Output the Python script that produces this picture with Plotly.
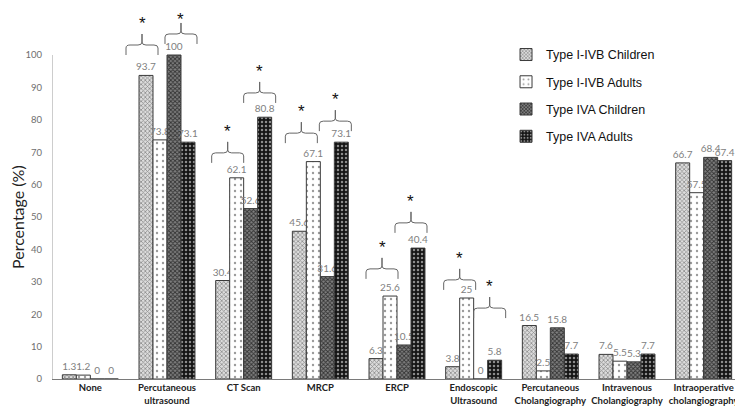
import plotly.graph_objects as go

categories = ["None", "Percutaneous<br>ultrasound", "CT Scan", "MRCP", "ERCP",
              "Endoscopic<br>Ultrasound", "Percutaneous<br>Cholangiography",
              "Intravenous<br>Cholangiography", "Intraoperative<br>cholangiography"]
series_names = ["Type I-IVB Children", "Type I-IVB Adults", "Type IVA Children", "Type IVA Adults"]
s1 = [1.3, 93.7, 30.4, 45.6, 6.3, 3.8, 16.5, 7.6, 66.7]
s2 = [1.2, 73.8, 62.1, 67.1, 25.6, 25, 2.5, 5.5, 57.5]
s3 = [0, 100, 52.6, 31.6, 10.5, 0, 15.8, 5.3, 68.4]
s4 = [0, 73.1, 80.8, 73.1, 40.4, 5.8, 7.7, 7.7, 67.4]
y_ticks = [0, 10, 20, 30, 40, 50, 60, 70, 80, 90, 100]

# significance braces: category index, pair (0 = bars 1-2, 1 = bars 3-4), base level (%)
brace_cat = [1, 1, 2, 2, 3, 3, 4, 4, 5, 5]
brace_pair = [0, 1, 0, 1, 0, 1, 0, 1, 0, 1]
brace_level = [100.0, 103.4, 66.7, 85.2, 72.8, 76.5, 30.9, 45.1, 27.5, 18.8]
brace_shift_px = [-11, 0, -2, 2, -5, 1, -1, 0, 0, 2]

# page body has an 8px margin, so the figure is 8px smaller than the window
W, H = 735, 402
ML, MR, MT, MB = 44, 1, 0, 31
plot_w = W - ML - MR
plot_h = H - MT - MB
YMAX = plot_h / 324 * 100
ux = 9 / plot_w          # x units per px
uy = YMAX / plot_h       # y units per px

bargap = 0.27
barw = (1 - bargap) / 4

styles = [
    dict(bg="#dcdcdc", fg="#8c8c8c", shape="x", size=3, sol=0.45),
    dict(bg="#ffffff", fg="#9a9a9a", shape=".", size=6, sol=0.12),
    dict(bg="#808080", fg="#333333", shape="x", size=3, sol=0.5),
    dict(bg="#141414", fg="#8c8c8c", shape=".", size=4, sol=0.3),
]

fig = go.Figure()
xs = list(range(len(categories)))
for name, vals, st in zip(series_names, [s1, s2, s3, s4], styles):
    fig.add_trace(go.Bar(
        x=xs, y=vals, name=name, legendgroup=name,
        text=[f"{v:g}" for v in vals], textposition="outside",
        textfont=dict(family="Lato", size=10, color="#808080"),
        constraintext="none", cliponaxis=False,
        marker=dict(color=st["bg"],
                    line=dict(color="#3a3a3a", width=1),
                    pattern=dict(shape=st["shape"], fillmode="replace", bgcolor=st["bg"],
                                 fgcolor=st["fg"], size=st["size"], solidity=st["sol"])),
    ))

shapes = []
annotations = []
# left axis line from 0 to 100
shapes.append(dict(type="line", xref="x", yref="y", x0=-0.5, x1=-0.5, y0=0, y1=100,
                   line=dict(color="#bdbdbd", width=1.5)))

h1 = 10 * uy
h2 = 11 * uy
rx = 4 * ux
ry = 3 * uy
w = 16 * ux
for c, p, b, sh in zip(brace_cat, brace_pair, brace_level, brace_shift_px):
    cx = c + (-barw if p == 0 else barw) + sh * ux
    yh = b + h1
    tip = yh + h2
    path = (f"M {cx-w},{b} L {cx-w},{yh-ry} Q {cx-w},{yh} {cx-w+rx},{yh} "
            f"L {cx-rx},{yh} Q {cx},{yh} {cx},{yh+ry} L {cx},{tip} "
            f"L {cx},{yh+ry} Q {cx},{yh} {cx+rx},{yh} L {cx+w-rx},{yh} "
            f"Q {cx+w},{yh} {cx+w},{yh-ry} L {cx+w},{b}")
    shapes.append(dict(type="path", xref="x", yref="y", path=path,
                       line=dict(color="#666666", width=1)))
    # keep the star inside the page
    desired_center = tip + 16 * uy
    max_center = YMAX - 6 * uy
    extra = min(0.0, (max_center - desired_center) / uy)
    annotations.append(dict(x=cx, y=tip, xref="x", yref="y", text="*",
                            showarrow=False, yanchor="bottom", yshift=-1 + extra,
                            font=dict(family="Liberation Sans", size=17, color="#111111")))

annotations.append(dict(x=0, xref="paper", y=50, yref="y", text="Percentage (%)",
                        textangle=-90, showarrow=False, xanchor="center", yanchor="middle",
                        xshift=-35, font=dict(family="Lato", size=16, color="#222222")))

fig.update_layout(
    width=W, height=H, margin=dict(l=ML, r=MR, t=MT, b=MB, autoexpand=False),
    paper_bgcolor="white", plot_bgcolor="white",
    barmode="group", bargap=bargap, bargroupgap=0,
    shapes=shapes, annotations=annotations,
    showlegend=True,
    legend=dict(x=0.658, y=0.914, xanchor="left", yanchor="top",
                font=dict(family="Liberation Sans", size=12.5, color="#111111"),
                tracegroupgap=8, itemwidth=30, bgcolor="rgba(0,0,0,0)"),
    xaxis=dict(range=[-0.5, 8.5], tickvals=xs, ticktext=[f"<b>{c}</b>" for c in categories],
               showline=True, linecolor="#7a7a7a", linewidth=1, showgrid=False, zeroline=False,
               ticks="", tickangle=0, automargin=False,
               tickfont=dict(family="Lato", size=9.5, color="#222222")),
    yaxis=dict(range=[0, YMAX], tickvals=y_ticks, showgrid=False, zeroline=False,
               showline=False, ticks="", ticklabelstandoff=9, automargin=False,
               tickfont=dict(family="Lato", size=9.5, color="#6e6e6e")),
    font=dict(family="Lato"),
)

fig.write_html("out.html")
